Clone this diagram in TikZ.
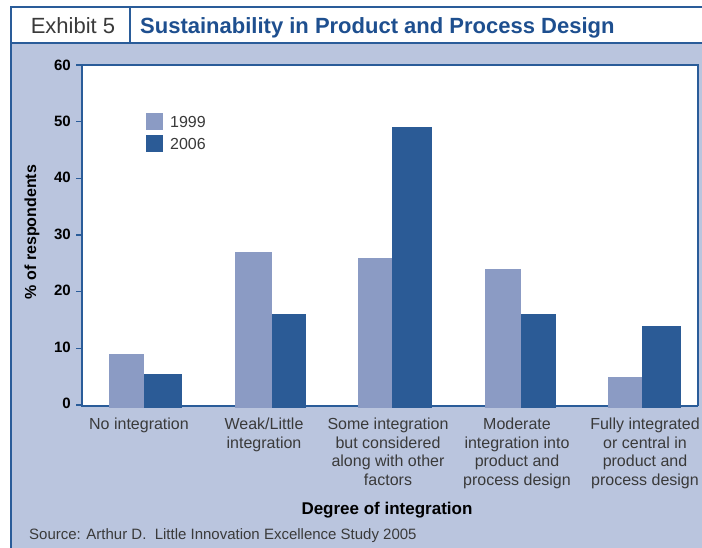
\documentclass[tikz,border=0pt]{standalone}
\usepackage{fontspec}
\setmainfont{Liberation Sans}
\usetikzlibrary{positioning}
\definecolor{framecol}{HTML}{2A5C99}
\definecolor{panelcol}{HTML}{BAC5DE}
\definecolor{titlecol}{HTML}{1E4F8F}
\definecolor{lightbar}{HTML}{8B9BC4}
\definecolor{darkbar}{HTML}{2B5B96}
\definecolor{textcol}{HTML}{3A3A3A}

\begin{document}
\begin{tikzpicture}[x=1pt,y=1pt]
\tikzstyle{every node}+=[inner sep=0pt]
\tikzstyle{frame}=[framecol,line width=2.5pt]
\tikzstyle{axis}=[framecol,line width=2.5pt]
\tikzstyle{boxline}=[framecol,line width=1.5pt]
\tikzstyle{tick}=[framecol,line width=1.5pt]
\tikzstyle{ticklabel}=[anchor=east,font=\fontsize{15}{15}\selectfont\bfseries]
\tikzstyle{catlabel}=[anchor=north,align=center,text=textcol,font=\fontsize{16}{18.5}\selectfont]
\tikzstyle{bar99}=[fill=lightbar]
\tikzstyle{bar06}=[fill=darkbar]
\useasboundingbox (0,0) rectangle (702,-547);
% panel and title bar
\fill [panelcol] (11,-43) rectangle (706,-551);
\fill [white] (11,-7) rectangle (706,-43);
\draw [frame] (11,-551) -- (11,-7) -- (706,-7);
\draw [frame] (11,-43) -- (706,-43);
\draw [frame] (130,-7) -- (130,-43);
\node (exhibit) [anchor=base,text=textcol,font=\fontsize{22}{22}\selectfont] at (73,-33) {Exhibit 5};
\node (title) [anchor=base west,text=titlecol,font=\fontsize{22}{22}\selectfont\bfseries] at (140,-33) {Sustainability in Product and Process Design};
% plot area
\fill [white] (82,-65) rectangle (698,-406);
\draw [boxline] (82,-65) -- (698,-65) -- (698,-406);
% bars
\fill [bar99] (109,-408) rectangle (144,-354);
\fill [bar06] (144,-408) rectangle (182,-373.8);
\fill [bar99] (235,-408) rectangle (272,-252);
\fill [bar06] (272,-408) rectangle (306,-314.3);
\fill [bar99] (358,-408) rectangle (392,-257.7);
\fill [bar06] (392,-408) rectangle (432,-127.3);
\fill [bar99] (485,-408) rectangle (521,-269);
\fill [bar06] (521,-408) rectangle (556,-314.3);
\fill [bar99] (608,-408) rectangle (642,-376.7);
\fill [bar06] (642,-408) rectangle (681,-325.7);
\draw [axis] (82,-65) -- (82,-406) -- (109,-406);
\draw [axis] (182,-406) -- (235,-406);
\draw [axis] (306,-406) -- (358,-406);
\draw [axis] (432,-406) -- (485,-406);
\draw [axis] (556,-406) -- (608,-406);
\draw [axis] (681,-406) -- (698,-406);
% ticks
\draw [tick] (76,-405) -- (82,-405);
\draw [tick] (76,-348.3) -- (82,-348.3);
\draw [tick] (76,-291.7) -- (82,-291.7);
\draw [tick] (76,-235) -- (82,-235);
\draw [tick] (76,-178.3) -- (82,-178.3);
\draw [tick] (76,-121.7) -- (82,-121.7);
\draw [tick] (76,-65) -- (82,-65);
\node (t0) [ticklabel] at (71,-403) {0};
\node (t10) [ticklabel] at (71,-347) {10};
\node (t20) [ticklabel] at (71,-290.5) {20};
\node (t30) [ticklabel] at (71,-234.5) {30};
\node (t40) [ticklabel] at (71,-177.5) {40};
\node (t50) [ticklabel] at (71,-121) {50};
\node (t60) [ticklabel] at (71,-65) {60};
\node (ylabel) [rotate=90,font=\fontsize{16}{16}\selectfont\bfseries] at (32,-232) {\% of respondents};
% legend
\fill [bar99] (146,-113) rectangle (163,-130);
\fill [bar06] (146,-135) rectangle (163,-152);
\node (leg99) [anchor=west,text=textcol,font=\fontsize{16}{16}\selectfont] at (170,-121.5) {1999};
\node (leg06) [anchor=west,text=textcol,font=\fontsize{16}{16}\selectfont] at (170,-143.5) {2006};
% category labels
\node (cat1) [catlabel] at (139,-418) {No integration};
\node (cat2) [catlabel] at (264,-418) {Weak/Little\\integration};
\node (cat3) [catlabel] at (388,-418) {Some integration\\but considered\\along with other\\factors};
\node (cat4) [catlabel] at (517,-418) {Moderate\\integration into\\product and\\process design};
\node (cat5) [catlabel] at (645,-418) {Fully integrated\\or central in\\product and\\process design};
\node (xlabel) [anchor=base,font=\fontsize{17}{17}\selectfont\bfseries] at (387,-514) {Degree of integration};
\node (source) [anchor=base west,text=textcol,font=\fontsize{15}{15}\selectfont] at (29,-539) {Source: Arthur D.~~Little Innovation Excellence Study 2005};
\end{tikzpicture}
\end{document}
